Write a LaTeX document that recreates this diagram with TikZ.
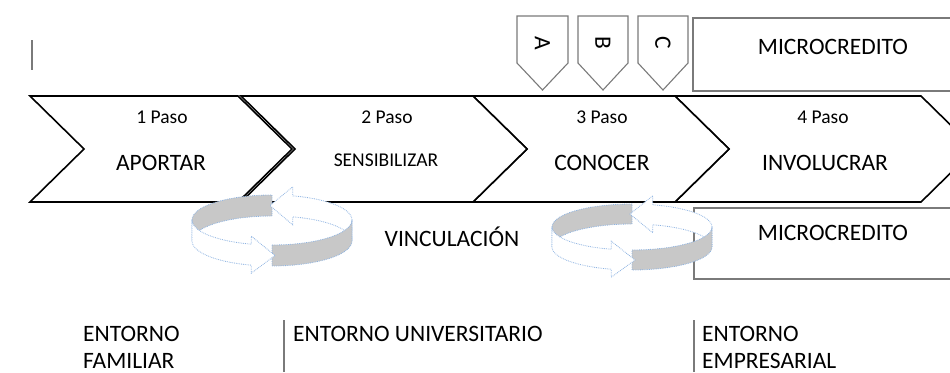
\documentclass[tikz,border=0pt]{standalone}
\usepackage{fontspec}
\setmainfont{Carlito}
\definecolor{boxgray}{HTML}{7A7A7A}
\definecolor{ribgray}{HTML}{C8C8C8}
\definecolor{dashblue}{HTML}{8DB3E2}
\newcommand\cyclearr[5]{%
  \def\caX{#1}\def\caY{#2}\def\caRX{#3}\def\caRY{#4}\def\caH{#5}%
  \pgfmathsetmacro\caXa{\caX+\caRX*cos(75)}%
  \pgfmathsetmacro\caYa{\caY-\caRY*sin(75)}%
  \pgfmathsetmacro\caXb{\caX+\caRX*cos(255)}%
  \pgfmathsetmacro\caYb{\caY-\caRY*sin(255)}%
  % back gray strip
  \path[ribgrayfill] plot[smooth,domain=180:90,samples=16] ({\caX+\caRX*cos(\x)},{\caY-\caRY*sin(\x)})
     -- plot[smooth,domain=90:180,samples=16] ({\caX+\caRX*cos(\x)},{\caY-\caRY*sin(\x)+\caH}) -- cycle;
  % back white arrow (head pointing left)
  \path[ribwhite] plot[smooth,domain=0:75,samples=16] ({\caX+\caRX*cos(\x)},{\caY-\caRY*sin(\x)})
     -- (\caXa,\caYa-9) -- (\caX-2,\caY-\caRY+\caH/2) -- (\caXa,\caYa+\caH+8) -- (\caXa,\caYa+\caH)
     -- plot[smooth,domain=75:0,samples=16] ({\caX+\caRX*cos(\x)},{\caY-\caRY*sin(\x)+\caH}) -- cycle;
  % front gray strip
  \path[ribgrayfill] plot[smooth,domain=270:360,samples=16] ({\caX+\caRX*cos(\x)},{\caY-\caRY*sin(\x)})
     -- plot[smooth,domain=360:270,samples=16] ({\caX+\caRX*cos(\x)},{\caY-\caRY*sin(\x)+\caH}) -- cycle;
  % front white arrow (head pointing right)
  \path[ribwhite] plot[smooth,domain=180:255,samples=16] ({\caX+\caRX*cos(\x)},{\caY-\caRY*sin(\x)})
     -- (\caXb,\caYb-8) -- (\caX+3,\caY+\caRY+\caH/2) -- (\caXb,\caYb+\caH+8) -- (\caXb,\caYb+\caH)
     -- plot[smooth,domain=255:180,samples=16] ({\caX+\caRX*cos(\x)},{\caY-\caRY*sin(\x)+\caH}) -- cycle;
}
\begin{document}
\begin{tikzpicture}[x=1pt,y=-1pt,
  chev/.style={draw=black, line width=1.6pt, line join=miter, fill=white},
  graybox/.style={draw=boxgray, line width=1.2pt},
  grayline/.style={draw=boxgray, line width=1.2pt},
  tag/.style={draw=boxgray, line width=1.1pt, line join=miter, fill=white},
  ribgrayfill/.style={fill=ribgray, draw=dashblue, densely dotted, line width=0.8pt},
  ribwhite/.style={fill=white, draw=dashblue, densely dotted, line width=0.8pt},
  lbl/.style={font=\fontsize{23.5}{28}\selectfont, inner sep=0pt, text height=15.1pt, text depth=0pt},
  small/.style={font=\fontsize{19.5}{23}\selectfont, inner sep=0pt, text height=12.4pt, text depth=0pt},
  env/.style={font=\fontsize{23.5}{27}\selectfont, inner sep=0pt, align=left, anchor=north west}
]
\useasboundingbox (0,0) rectangle (950,372);
\clip (0,0) rectangle (950,372);

% small mark top-left
\draw[grayline] (32,40) -- (32,70);

% boxes
\draw[graybox] (1000,18) -- (693,18) -- (693,91) -- (1000,91);
\node[lbl] (mc1) at (833,47) {MICROCREDITO};
\draw[graybox] (1000,208) -- (694,208) -- (694,279) -- (1000,279);
\node[lbl] (mc2) at (833,233) {MICROCREDITO};

% tags A B C
\draw[tag] (517,16) -- (568,16) -- (568,63) -- (542.5,90) -- (517,63) -- cycle;
\draw[tag] (578,16) -- (628,16) -- (628,63) -- (603,90) -- (578,63) -- cycle;
\draw[tag] (638,16) -- (688,16) -- (688,63) -- (663,90) -- (638,63) -- cycle;
\node[lbl, rotate=-90] (tA) at (542.5,43) {A};
\node[lbl, rotate=-90] (tB) at (603,43) {B};
\node[lbl, rotate=-90] (tC) at (663,43) {C};

% chevrons
\path[chev] (675,96) -- (921,96) -- (975,149) -- (921,202) -- (675,202) -- (729,149) -- cycle;
\path[chev] (473,96) -- (675,96) -- (729,149) -- (675,202) -- (473,202) -- (527,149) -- cycle;
\path[chev] (241,96) -- (473,96) -- (527,149) -- (473,202) -- (241,202) -- (295,149) -- cycle;
\path[chev] (30,96) -- (238,96) -- (292,149) -- (238,202) -- (30,202) -- (84,149) -- cycle;

\node[small] (p1) at (162,117) {1 Paso};
\node[lbl]   (s1) at (161,163) {APORTAR};
\node[small] (p2) at (387,117) {2 Paso};
\node[small] (s2) at (386,160) {SENSIBILIZAR};
\node[small] (p3) at (602,117) {3 Paso};
\node[lbl]   (s3) at (602,163) {CONOCER};
\node[small] (p4) at (823,117) {4 Paso};
\node[lbl]   (s4) at (825,163) {INVOLUCRAR};

% circular arrows
\cyclearr{272}{220}{80}{25}{21}
\cyclearr{632}{227}{80}{23}{20}

\node[lbl] (vin) at (452,239) {VINCULACIÓN};

% environments
\draw[grayline] (284,320) -- (284,372);
\draw[grayline] (694,320) -- (694,372);
\node[env] (fam) at (83,326.5) {ENTORNO\\FAMILIAR};
\node[env] (uni) at (293,326.5) {ENTORNO UNIVERSITARIO};
\node[env] (emp) at (702,326.5) {ENTORNO\\EMPRESARIAL};
\end{tikzpicture}
\end{document}
